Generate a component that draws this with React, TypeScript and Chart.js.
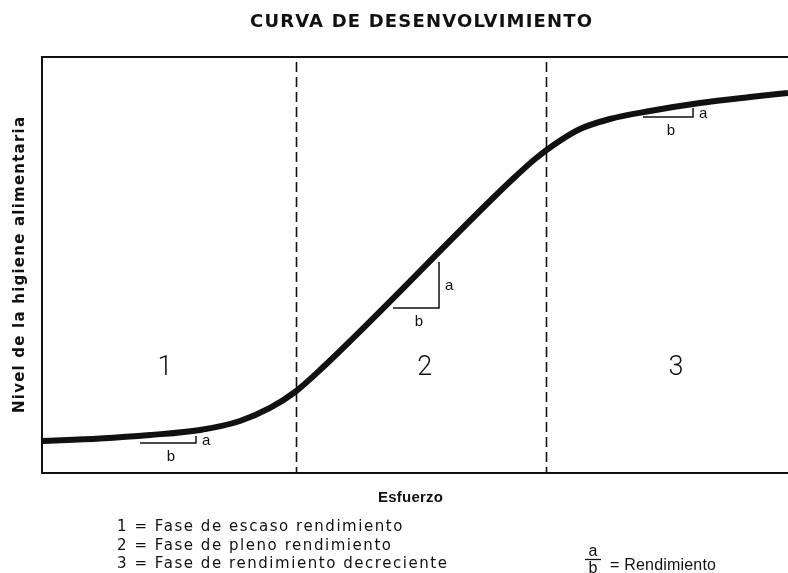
import React, { useEffect, useRef } from "react";
import { Chart, registerables } from "chart.js";
Chart.register(...registerables);

// Curve: effort (x, 0-100) vs. food hygiene level (y, 0-100)
const effortX = [0, 7.77, 14.48, 21.18, 26.54, 30.56, 33.91, 37.27, 60.46, 63.4, 66.09, 68.77, 72.12, 76.14, 81.5, 88.2, 94.91, 100];
const hygieneY = [7.69, 8.29, 9.13, 10.34, 12.5, 15.63, 19.47, 24.76, 66.11, 71.15, 75.48, 79.09, 82.69, 85.1, 87.02, 88.94, 90.38, 91.35];

// Phase boundaries (dashed lines) and phase labels
const phaseBounds = [34.05, 67.56];
const phaseLabels = ["1", "2", "3"];
const phaseLabelX = [16.5, 51.3, 85.0];
const phaseLabelY = 25.2;

// Slope triangles (a / b)
const slopeX0 = [13.14, 47.05, 80.56];
const slopeX1 = [20.64, 53.22, 87.27];
const slopeY0 = [7.21, 39.66, 85.58];
const slopeY1 = [8.89, 50.72, 87.74];

const titleText = "CURVA DE DESENVOLVIMIENTO";
const yTitle = "Nivel de la higiene alimentaria";
const xTitle = "Esfuerzo";
const legendLines = [
  "1 = Fase de escaso rendimiento",
  "2 = Fase de pleno rendimiento",
  "3 = Fase de rendimiento decreciente",
];
const ratioText = "= Rendimiento";

const INK = "#111";
const FONT = "'Liberation Sans', Arial, Helvetica, sans-serif";
const WIDE = "'DejaVu Sans', 'Liberation Sans', sans-serif";

function fitText(ctx: CanvasRenderingContext2D, text: string, x: number, y: number, width: number) {
  ctx.save();
  (ctx as any).letterSpacing = "0px";
  const w = ctx.measureText(text).width;
  const sp = Math.max(0, (width - w) / Math.max(1, text.length - 1));
  (ctx as any).letterSpacing = sp + "px";
  ctx.textAlign = "left";
  ctx.fillText(text, x, y);
  ctx.restore();
  return sp;
}

const decorPlugin = {
  id: "decor",
  beforeDatasetsDraw(chart: any) {
    const { ctx, chartArea } = chart;
    const xs = chart.scales.x;
    const { left, top, bottom } = chartArea;
    ctx.save();
    ctx.strokeStyle = INK;
    ctx.lineWidth = 2;
    ctx.beginPath();
    ctx.moveTo(chart.width + 5, top);
    ctx.lineTo(left, top);
    ctx.lineTo(left, bottom);
    ctx.lineTo(chart.width + 5, bottom);
    ctx.stroke();

    ctx.lineWidth = 1.6;
    ctx.setLineDash([10, 5]);
    phaseBounds.forEach((b) => {
      const px = Math.round(xs.getPixelForValue(b)) + 0.5;
      ctx.beginPath();
      ctx.moveTo(px, top + 5);
      ctx.lineTo(px, bottom);
      ctx.stroke();
    });
    ctx.restore();
  },
  afterDatasetsDraw(chart: any) {
    const { ctx } = chart;
    const xs = chart.scales.x;
    const ys = chart.scales.y;
    ctx.save();
    ctx.fillStyle = INK;
    ctx.strokeStyle = INK;

    // slope triangles
    ctx.lineWidth = 1.5;
    ctx.font = `15px ${FONT}`;
    ctx.textBaseline = "middle";
    for (let i = 0; i < slopeX0.length; i++) {
      const x0 = xs.getPixelForValue(slopeX0[i]);
      const x1 = xs.getPixelForValue(slopeX1[i]);
      const y0 = ys.getPixelForValue(slopeY0[i]);
      const y1 = ys.getPixelForValue(slopeY1[i]);
      ctx.beginPath();
      ctx.moveTo(x0, y0);
      ctx.lineTo(x1, y0);
      ctx.lineTo(x1, y1);
      ctx.stroke();
      ctx.textAlign = "left";
      ctx.fillText("a", x1 + 6, (y0 + y1) / 2 + 1);
      ctx.textAlign = "center";
      ctx.fillText("b", (x0 + x1) / 2 + 3, y0 + 14);
    }

    // phase numbers
    ctx.font = `300 27px Roboto, ${FONT}`;
    ctx.textAlign = "center";
    ctx.textBaseline = "middle";
    phaseLabels.forEach((t, i) => {
      ctx.fillText(t, xs.getPixelForValue(phaseLabelX[i]), ys.getPixelForValue(phaseLabelY));
    });

    // title
    ctx.textBaseline = "alphabetic";
    ctx.font = `bold 18px ${WIDE}`;
    fitText(ctx, titleText, 250, 27, 342);

    // x title
    ctx.font = `bold 15px ${FONT}`;
    fitText(ctx, xTitle, 378, 502, 65);

    // y title
    ctx.save();
    ctx.translate(24, 413);
    ctx.rotate(-Math.PI / 2);
    ctx.font = `bold 15px ${WIDE}`;
    fitText(ctx, yTitle, 0, 0, 296);
    ctx.restore();

    // legend
    ctx.font = `15px ${WIDE}`;
    ctx.save();
    (ctx as any).letterSpacing = "0px";
    const w3 = ctx.measureText(legendLines[2]).width;
    const sp = Math.max(0, (330 - w3) / (legendLines[2].length - 1));
    (ctx as any).letterSpacing = sp + "px";
    ctx.textAlign = "left";
    legendLines.forEach((l, i) => {
      ctx.fillText(l, 117, 531 + i * 18.5);
    });
    ctx.restore();

    // a/b = Rendimiento
    ctx.font = `16px ${FONT}`;
    ctx.textAlign = "center";
    ctx.fillText("a", 593, 556);
    ctx.fillText("b", 593, 573);
    ctx.lineWidth = 1.3;
    ctx.beginPath();
    ctx.moveTo(585, 559.5);
    ctx.lineTo(601, 559.5);
    ctx.stroke();
    fitText(ctx, ratioText, 610, 570, 106);

    ctx.restore();
  },
};

export default function App() {
  const ref = useRef<HTMLCanvasElement>(null);
  useEffect(() => {
    if (!ref.current) return;
    const chart = new Chart(ref.current, {
      type: "line",
      data: {
        datasets: [
          {
            data: effortX.map((x, i) => ({ x, y: hygieneY[i] })),
            borderColor: INK,
            borderWidth: 6,
            pointRadius: 0,
            cubicInterpolationMode: "monotone",
            fill: false,
          },
        ],
      },
      options: {
        animation: false,
        responsive: false,
        devicePixelRatio: 1,
        layout: { padding: { left: 42, top: 57, right: 0, bottom: 100 } },
        plugins: { legend: { display: false }, tooltip: { enabled: false }, title: { display: false } },
        scales: {
          x: { type: "linear", min: 0, max: 100, display: false },
          y: { type: "linear", min: 0, max: 100, display: false },
        },
      },
      plugins: [decorPlugin],
    });
    return () => chart.destroy();
  }, []);
  return (
    <div style={{ position: "absolute", left: 0, top: 0, width: 788, height: 573, background: "#fff", overflow: "hidden" }}>
      <canvas ref={ref} width={788} height={573} style={{ display: "block" }} />
    </div>
  );
}
